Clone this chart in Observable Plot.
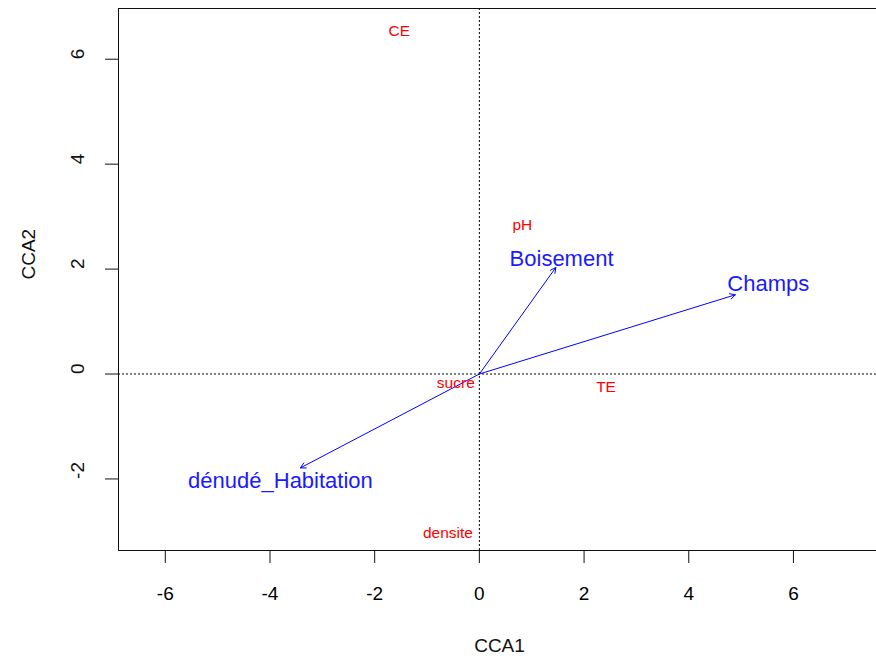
<!DOCTYPE html>
<html>
<head>
<meta charset="utf-8">
<script src="https://cdn.jsdelivr.net/npm/d3@7"></script>
<script src="https://cdn.jsdelivr.net/npm/@observablehq/plot@0.6"></script>
<style>
  html, body { margin: 0; padding: 0; background: #fff; }
  svg { overflow: hidden; }
</style>
</head>
<body>
<div id="chart"></div>
<script>
// Environmental vectors (blue arrows)
const envNames = ["Boisement", "Champs", "dénudé_Habitation"];
const envX = [1.46, 4.89, -3.42];
const envY = [2.03, 1.51, -1.79];
const envLabelX = [1.57, 5.52, -3.80];
const envLabelY = [2.19, 1.71, -2.04];

// Variable labels (red text)
const varNames = ["CE", "pH", "sucre", "TE", "densite"];
const varX = [-1.53, 0.82, -0.45, 2.42, -0.60];
const varY = [6.53, 2.84, -0.17, -0.24, -3.04];

// Axes
const xTicks = [-6, -4, -2, 0, 2, 4, 6];
const yTicks = [-2, 0, 2, 4, 6];
const xTitle = "CCA1";
const yTitle = "CCA2";

const env = envNames.map((name, i) => ({name, x: envX[i], y: envY[i], lx: envLabelX[i], ly: envLabelY[i]}));
const vars = varNames.map((name, i) => ({name, x: varX[i], y: varY[i]}));

const font = "'Liberation Sans', Arial, sans-serif";
const xDomain = [-6.894, 7.663];
const yDomain = [-3.364, 6.967];

const chart = Plot.plot({
  width: 876,
  height: 658,
  marginLeft: 118,
  marginRight: -4,
  marginTop: 8,
  marginBottom: 108,
  style: {fontFamily: font, color: "#000", background: "#fff"},
  x: {domain: xDomain, axis: null},
  y: {domain: yDomain, axis: null},
  marks: [
    Plot.frame({stroke: "#111"}),
    Plot.ruleX([0], {stroke: "#000", strokeDasharray: "2,2"}),
    Plot.ruleY([0], {stroke: "#000", strokeDasharray: "2,2"}),
    Plot.axisX({ticks: xTicks, tickSize: 13, tickPadding: 23, fontSize: 19, label: null, stroke: "#111", tickFormat: d => String(d)}),
    Plot.axisY({ticks: yTicks, tickSize: 13, tickFormat: () => "", label: null, stroke: "#111"}),
    Plot.text(yTicks, {y: d => d, text: d => String(d), frameAnchor: "left", dx: -41, rotate: -90, fontSize: 19, fill: "#111", lineAnchor: "middle"}),
    Plot.text([xTitle], {text: d => d, frameAnchor: "bottom", dy: 95, fontSize: 19, fill: "#111", lineAnchor: "middle"}),
    Plot.text([yTitle], {text: d => d, frameAnchor: "left", dx: -90, rotate: -90, fontSize: 19, fill: "#111", lineAnchor: "middle"}),
    Plot.arrow(env, {x1: () => 0, y1: () => 0, x2: "x", y2: "y", stroke: "#0000ff", strokeWidth: 1, headLength: 9, headAngle: 55}),
    Plot.text(env, {x: "lx", y: "ly", text: "name", fill: "#1a1aff", fontSize: 22}),
    Plot.text(vars, {x: "x", y: "y", text: "name", fill: "#ff0000", fontSize: 15.5})
  ]
});
document.getElementById("chart").appendChild(chart);
</script>
</body>
</html>
